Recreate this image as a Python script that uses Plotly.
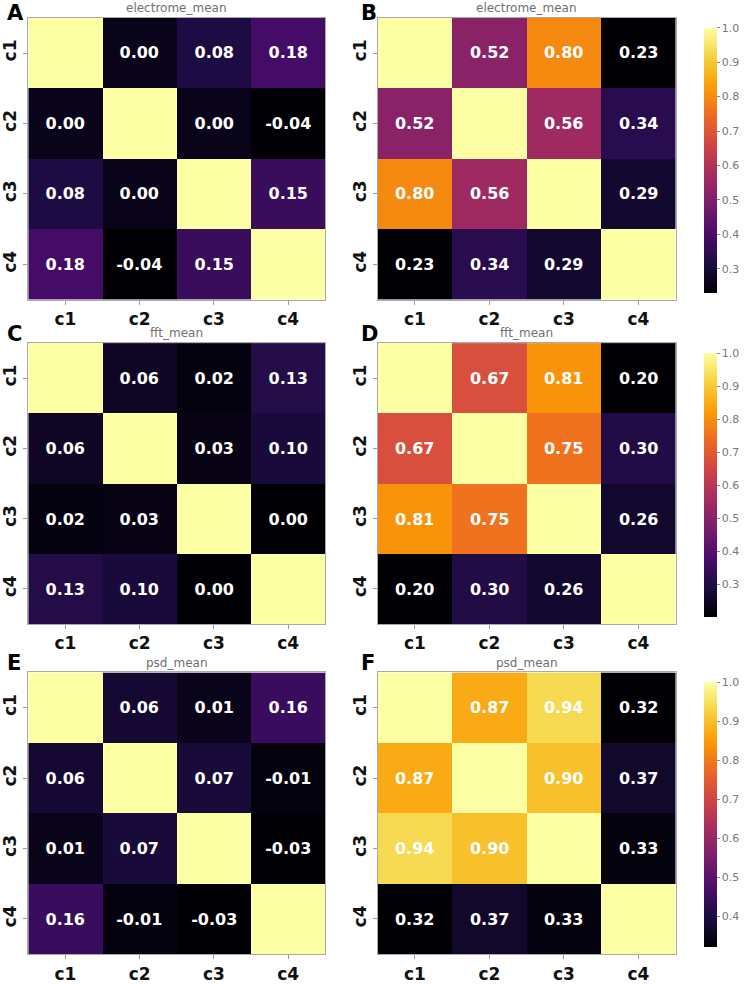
import plotly.graph_objects as go

labels = ["c1", "c2", "c3", "c4"]

electrome_left = [[1, 0.00, 0.08, 0.18],
                  [0.00, 1, 0.00, -0.04],
                  [0.08, 0.00, 1, 0.15],
                  [0.18, -0.04, 0.15, 1]]
electrome_right = [[1, 0.52, 0.80, 0.23],
                   [0.52, 1, 0.56, 0.34],
                   [0.80, 0.56, 1, 0.29],
                   [0.23, 0.34, 0.29, 1]]
fft_left = [[1, 0.06, 0.02, 0.13],
            [0.06, 1, 0.03, 0.10],
            [0.02, 0.03, 1, 0.00],
            [0.13, 0.10, 0.00, 1]]
fft_right = [[1, 0.67, 0.81, 0.20],
             [0.67, 1, 0.75, 0.30],
             [0.81, 0.75, 1, 0.26],
             [0.20, 0.30, 0.26, 1]]
psd_left = [[1, 0.06, 0.01, 0.16],
            [0.06, 1, 0.07, -0.01],
            [0.01, 0.07, 1, -0.03],
            [0.16, -0.01, -0.03, 1]]
psd_right = [[1, 0.87, 0.94, 0.32],
             [0.87, 1, 0.90, 0.37],
             [0.94, 0.90, 1, 0.33],
             [0.32, 0.37, 0.33, 1]]

titles = ["electrome_mean", "electrome_mean", "fft_mean", "fft_mean", "psd_mean", "psd_mean"]
letters = ["A", "B", "C", "D", "E", "F"]
matrices = [electrome_left, electrome_right, fft_left, fft_right, psd_left, psd_right]
cbar_ticks = [None, [0.3, 0.4, 0.5, 0.6, 0.7, 0.8, 0.9, 1.0], None,
              [0.3, 0.4, 0.5, 0.6, 0.7, 0.8, 0.9, 1.0], None,
              [0.4, 0.5, 0.6, 0.7, 0.8, 0.9, 1.0]]

W, H = 750, 984
col_px = [(25, 331), (385, 692)]
letter_x = [2, 367]
row_px = [(18, 303), (347, 631), (680, 965)]

fig = go.Figure()
annotations = []
for i, z in enumerate(matrices):
    r, c = divmod(i, 2)
    ax = "" if i == 0 else str(i + 1)
    text = [["" if a == b else f"{z[a][b]:.2f}" for b in range(4)] for a in range(4)]
    flat = [v for row in z for v in row]
    zmin, zmax = min(flat), max(flat)
    show_cb = c == 1
    top, bot = row_px[r]
    cb = None
    if show_cb:
        cb = dict(x=711 / W, xanchor="left", y=1 - top / H, yanchor="top",
                  lenmode="pixels", len=bot - top, thickness=13,
                  thicknessmode="pixels",
                  tickvals=cbar_ticks[i], tickformat=".1f", ticks="outside",
                  ticklen=3, tickcolor="#888", outlinewidth=0,
                  tickfont=dict(family="DejaVu Sans", size=11, color="#777"))
    fig.add_trace(go.Heatmap(
        z=z, x=labels, y=labels, text=text, texttemplate="%{text}",
        textfont=dict(family="DejaVu Sans", size=16, color="white", weight="bold"),
        colorscale="Inferno", zmin=zmin, zmax=zmax,
        showscale=show_cb, colorbar=cb,
        xaxis="x" + ax, yaxis="y" + ax, hoverinfo="skip"))
    x0, x1 = col_px[c]
    axis_common = dict(showline=True, linecolor="#aaa", linewidth=1, mirror=True,
                       ticks="outside", ticklen=4, tickcolor="#999", showgrid=False,
                       zeroline=False,
                       tickfont=dict(family="DejaVu Sans", size=17, color="#111", weight="bold"))
    fig.update_layout(**{
        "xaxis" + ax: dict(domain=[x0 / W, x1 / W], anchor="y" + ax, **axis_common),
        "yaxis" + ax: dict(domain=[1 - bot / H, 1 - top / H], anchor="x" + ax,
                           autorange="reversed", tickangle=-90, **axis_common),
    })
    annotations.append(dict(text=titles[i], xref="paper", yref="paper",
                            x=(x0 + x1) / 2 / W, y=1 - (top - 10) / H,
                            xanchor="center", yanchor="middle", showarrow=False,
                            font=dict(family="DejaVu Sans", size=12, color="#707070")))
    if r == 0:
        ly, lanchor = 1.0, "top"
    else:
        ly, lanchor = 1 - (top - 9) / H, "middle"
    annotations.append(dict(text="<b>" + letters[i] + "</b>", xref="paper", yref="paper",
                            x=letter_x[c] / W, y=ly,
                            xanchor="left", yanchor=lanchor, showarrow=False,
                            borderpad=0,
                            font=dict(family="DejaVu Sans", size=21, color="black")))

fig.update_layout(width=W, height=H, margin=dict(l=0, r=0, t=0, b=0),
                  plot_bgcolor="white", paper_bgcolor="white",
                  annotations=annotations)
fig.write_html("out.html")
